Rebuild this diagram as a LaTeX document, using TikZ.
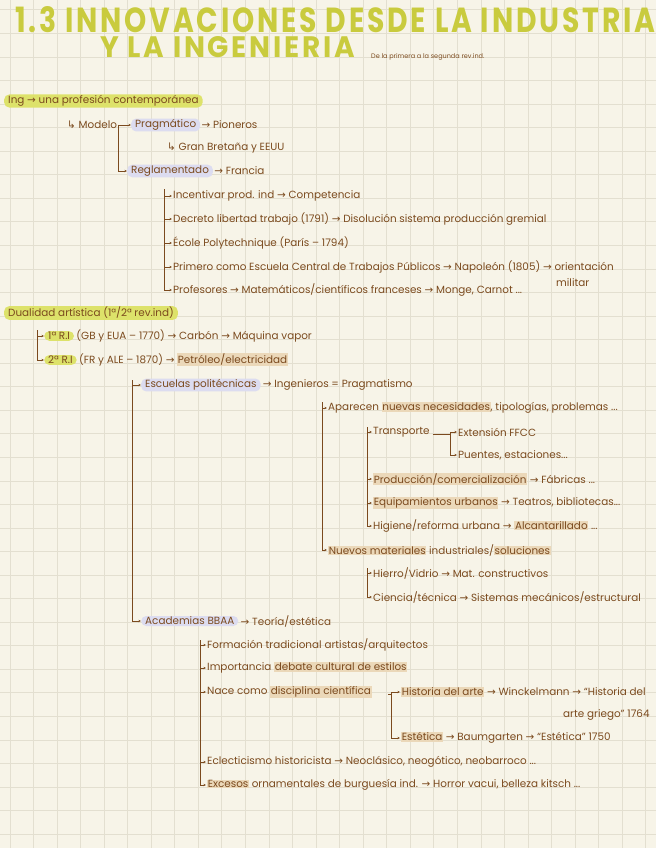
\documentclass[tikz,border=0pt]{standalone}
\usepackage{fontspec}
\usepackage{graphicx}
\setmainfont{Poppins}
\newfontfamily\symfont{DejaVu Sans}
\newfontfamily\titlefont[LetterSpace=10]{Poppins}
\usetikzlibrary{arrows.meta, positioning}
\definecolor{paper}{HTML}{F7F4E8}
\definecolor{gridc}{HTML}{E3DFD0}
\definecolor{ink}{HTML}{7B4A1E}
\definecolor{titley}{HTML}{C9CB3E}
\definecolor{hlyellow}{HTML}{DDE26A}
\definecolor{hllav}{HTML}{DCDCF0}
\definecolor{hlbeige}{HTML}{EBD8B9}
\newcommand{\fl}{{\symfont →}}
\newcommand{\dn}{{\symfont ↳}}
\newcommand{\hlb}[1]{{\setlength{\fboxsep}{0.6pt}\colorbox{hlbeige}{#1}}}

\begin{document}
\begin{tikzpicture}[x=1pt, y=-1pt,
  txt/.style={anchor=west, inner sep=1pt, text=ink, font=\fontsize{10.4}{12}\selectfont},
  hly/.style={txt, fill=hlyellow, rounded corners=5pt, inner xsep=4pt},
  hll/.style={txt, fill=hllav, rounded corners=5pt, inner xsep=4pt},
  arr/.style={draw=ink, line width=0.6pt, -{Stealth[length=2.6pt, width=2.4pt]}}]
\useasboundingbox (0,0) rectangle (656,848);
\clip (0,0) rectangle (656,848);
\fill[paper] (0,0) rectangle (656,848);
\foreach \i in {0,...,27} \draw[gridc, line width=1pt] (10+23.55*\i,0) -- (10+23.55*\i,848);
\foreach \i in {0,...,35} \draw[gridc, line width=1pt] (0,10+23.55*\i) -- (656,10+23.55*\i);

% title
\node[anchor=west, inner sep=0pt, text=titley] (tit1) at (15,19.5) {\resizebox{640pt}{26pt}{\titlefont\bfseries 1.3 INNOVACIONES DESDE LA INDUSTRIA}};
\node[anchor=west, inner sep=0pt, text=titley] (tit2) at (100,47.5) {\resizebox{255pt}{21pt}{\titlefont\bfseries Y LA INGENIERIA}};
\node[txt, font=\fontsize{6.5}{8}\selectfont] (sub) at (370,57) {De la primera a la segunda rev.ind.};

% ingenieria
\node[hly] (ing) at (4,101) {Ing \fl{} una profesión contemporánea};
\node[txt] (modelo) at (66,125) {\dn{} Modelo};
\node[hll] (prag) at (131,125) {Pragmático};
\node[txt, right=0pt of prag] (prag2) {\fl{} Pioneros};
\node[txt] (gb) at (166,148) {\dn{} Gran Bretaña y EEUU};
\node[hll] (regl) at (127,171) {Reglamentado};
\node[txt, right=0pt of regl] (regl2) {\fl{} Francia};
\coordinate (b0) at (118,125);
\draw[arr] (modelo.east) -- (prag.west);
\draw[arr] (b0) |- (regl.west);

\node[txt] (f1) at (172,196) {Incentivar prod. ind \fl{} Competencia};
\node[txt] (f2) at (172,219) {Decreto libertad trabajo (1791) \fl{} Disolución sistema producción gremial};
\node[txt] (f3) at (172,243) {École Polytechnique (París – 1794)};
\node[txt] (f4) at (172,267) {Primero como Escuela Central de Trabajos Públicos \fl{} Napoleón (1805) \fl{} orientación};
\node[txt] (f4b) at (555,283) {militar};
\node[txt] (f5) at (172,290) {Profesores \fl{} Matemáticos/científicos franceses \fl{} Monge, Carnot ...};
\coordinate (b1) at (164,189);
\foreach \n in {f1,f2,f3,f4,f5} \draw[arr] (b1) |- (\n.west);

% dualidad
\node[hly] (dual) at (4,313) {Dualidad artística (1ª/2ª rev.ind)};
\node[hly] (ri1) at (44,336) {1ª R.I};
\node[txt, right=1pt of ri1] (ri1t) {(GB y EUA – 1770) \fl{} Carbón \fl{} Máquina vapor};
\node[hly] (ri2) at (44,360) {2ª R.I};
\node[txt, right=1pt of ri2] (ri2t) {(FR y ALE – 1870) \fl{} \hlb{Petróleo/electricidad}};
\coordinate (b2) at (37,330);
\foreach \n in {ri1,ri2} \draw[arr] (b2) |- (\n.west);

\node[hll] (esc) at (141,385) {Escuelas politécnicas};
\node[txt, right=1pt of esc] (esc2) {\fl{} Ingenieros = Pragmatismo};
\node[hll] (acad) at (141,621) {Academias BBAA};
\node[txt, right=1pt of acad] (acad2) {\fl{} Teoría/estética};
\coordinate (b3) at (132,380);
\foreach \n in {esc,acad} \draw[arr] (b3) |- (\n.west);

\node[txt] (apar) at (327,408) {Aparecen \hlb{nuevas necesidades}, tipologías, problemas ...};
\node[txt] (nuevos) at (327,550) {\hlb{Nuevos materiales} industriales/\hlb{soluciones}};
\coordinate (b4) at (322,402);
\foreach \n in {apar,nuevos} \draw[arr] (b4) |- (\n.west);

\node[txt] (trans) at (372,432) {Transporte};
\node[txt] (prod) at (372,479) {\hlb{Producción/comercialización} \fl{} Fábricas ...};
\node[txt] (equip) at (372,503) {\hlb{Equipamientos urbanos} \fl{} Teatros, bibliotecas...};
\node[txt] (hig) at (372,526) {Higiene/reforma urbana \fl{} \hlb{Alcantarillado} ...};
\coordinate (b5) at (367,427);
\foreach \n in {trans,prod,equip,hig} \draw[arr] (b5) |- (\n.west);

\node[txt] (ffcc) at (457,432) {Extensión FFCC};
\node[txt] (puentes) at (457,455) {Puentes, estaciones...};
\coordinate (b6) at (450,434);
\draw[draw=ink, line width=0.6pt] (trans.east) ++(2,2) -- (b6);
\draw[arr] (b6) |- (ffcc.west);
\draw[arr] (b6) |- (puentes.west);

\node[txt] (hierro) at (372,573) {Hierro/Vidrio \fl{} Mat. constructivos};
\node[txt] (ciencia) at (372,597) {Ciencia/técnica \fl{} Sistemas mecánicos/estructural};
\coordinate (b7) at (367,568);
\foreach \n in {hierro,ciencia} \draw[arr] (b7) |- (\n.west);

% academias
\node[txt] (form) at (206,645) {Formación tradicional artistas/arquitectos};
\node[txt] (impo) at (206,668) {Importancia \hlb{debate cultural de estilos}};
\node[txt] (nace) at (206,692) {Nace como \hlb{disciplina científica}};
\node[txt] (ecle) at (206,762) {Eclecticismo historicista \fl{} Neoclásico, neogótico, neobarroco ...};
\node[txt] (exce) at (206,785) {\hlb{Excesos} ornamentales de burguesía ind. \fl{} Horror vacui, belleza kitsch ...};
\coordinate (b8) at (200,640);
\foreach \n in {form,impo,nace,ecle,exce} \draw[arr] (b8) |- (\n.west);

\node[txt] (hist) at (400,692) {\hlb{Historia del arte} \fl{} Winckelmann \fl{} “Historia del};
\node[txt] (hist2) at (562,715) {arte griego” 1764};
\node[txt] (este) at (400,738) {\hlb{Estética} \fl{} Baumgarten \fl{} “Estética” 1750};
\coordinate (b9) at (391,694);
\draw[draw=ink, line width=0.6pt] (b9) -- ++(-3,0);
\foreach \n in {hist,este} \draw[arr] (b9) |- (\n.west);
\end{tikzpicture}
\end{document}
